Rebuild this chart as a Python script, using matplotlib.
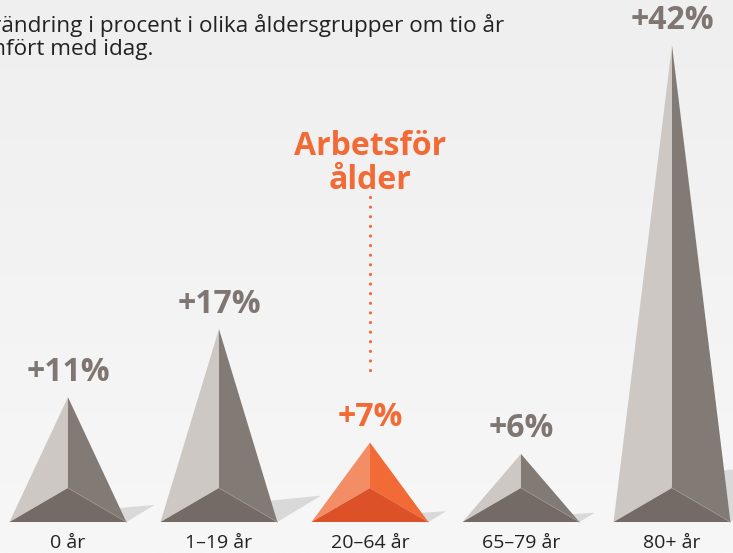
import numpy as np
import matplotlib
matplotlib.use('Agg')
import matplotlib.pyplot as plt
from matplotlib.patches import Polygon

# data
categories = ['0 år', '1–19 år', '20–64 år', '65–79 år', '80+ år']
change_pct = [11, 17, 7, 6, 42]
highlight = 2  # working age group

title = 'Förändring i procent i olika åldersgrupper om tio år\njämfört med idag.'
note = 'Arbetsför\nålder'

GREY = ('#cdc8c3', '#827a75', '#746b66')
ORANGE = ('#f38d66', '#f26a35', '#dc5128')
LABEL_GREY = '#7f7672'
ORANGE_TXT = '#f26a35'

plt.rcParams['font.family'] = ['Open Sans', 'DejaVu Sans']

fig = plt.figure(figsize=(7.33, 5.53), dpi=100)
ax = fig.add_axes([0, 0, 1, 1])
ax.set_xlim(-0.450, 4.404)
ax.set_ylim(-2.73, 45.99)
ax.axis('off')

# soft background gradient
grad = np.linspace(0, 1, 256).reshape(-1, 1)
ax.imshow(grad, extent=[-0.450, 4.404, -2.73, 45.99], aspect='auto',
          cmap=matplotlib.colors.LinearSegmentedColormap.from_list('bg', ['#f7f7f7', '#efefef']),
          origin='lower', zorder=0)

half = 0.387
inner = 3.0

for i, (cat, v) in enumerate(zip(categories, change_pct)):
    left, right, bottom = ORANGE if i == highlight else GREY
    xl, xr = i - half, i + half
    # shadow
    ax.add_patch(Polygon([(xr, 0), (xr + 0.017 * v, 0.137 * v), (xr - 0.12, 0.105 * v)],
                         closed=True, color='#d9d9d9', lw=0, zorder=1))
    ax.add_patch(Polygon([(i, v), (xl, 0), (i, inner)], closed=True, color=left, lw=0, zorder=2))
    ax.add_patch(Polygon([(i, v), (i, inner), (xr, 0)], closed=True, color=right, lw=0, zorder=2))
    ax.add_patch(Polygon([(xl, 0), (i, inner), (xr, 0)], closed=True, color=bottom, lw=0, zorder=3))
    ax.plot([i, xr], [inner, 0], color='#9a928d' if i != highlight else '#e8774d', lw=0.6, zorder=4)

    ax.text(i, v + 2.2, f'+{v}%', ha='center', va='center', fontsize=23, fontweight='bold',
            color=ORANGE_TXT if i == highlight else LABEL_GREY, zorder=5)
    ax.text(i, -1.85, cat, ha='center', va='center', fontsize=14, color='#222222', zorder=5)

# callout for working age
ax.text(highlight, 31.6, note, ha='center', va='center', fontsize=23, fontweight='bold',
        color=ORANGE_TXT, linespacing=1.05, zorder=5)
ax.plot([highlight, highlight], [28.6, 12.7], color=ORANGE_TXT, lw=2.3,
        linestyle=(0, (0.01, 3.0)), dash_capstyle='round', zorder=5)

# title runs off the left edge, as in the source graphic
renderer = fig.canvas.get_renderer()
probe = fig.text(0, 0, 'För', fontsize=16.2)
shift = probe.get_window_extent(renderer).width
probe.remove()
fig.text(-shift / 733 + 0.002, 1 - 55 / 553, title, ha='left', va='baseline', fontsize=16.2,
         color='#222222', linespacing=1.1)

fig.savefig('out.png', dpi=100)
